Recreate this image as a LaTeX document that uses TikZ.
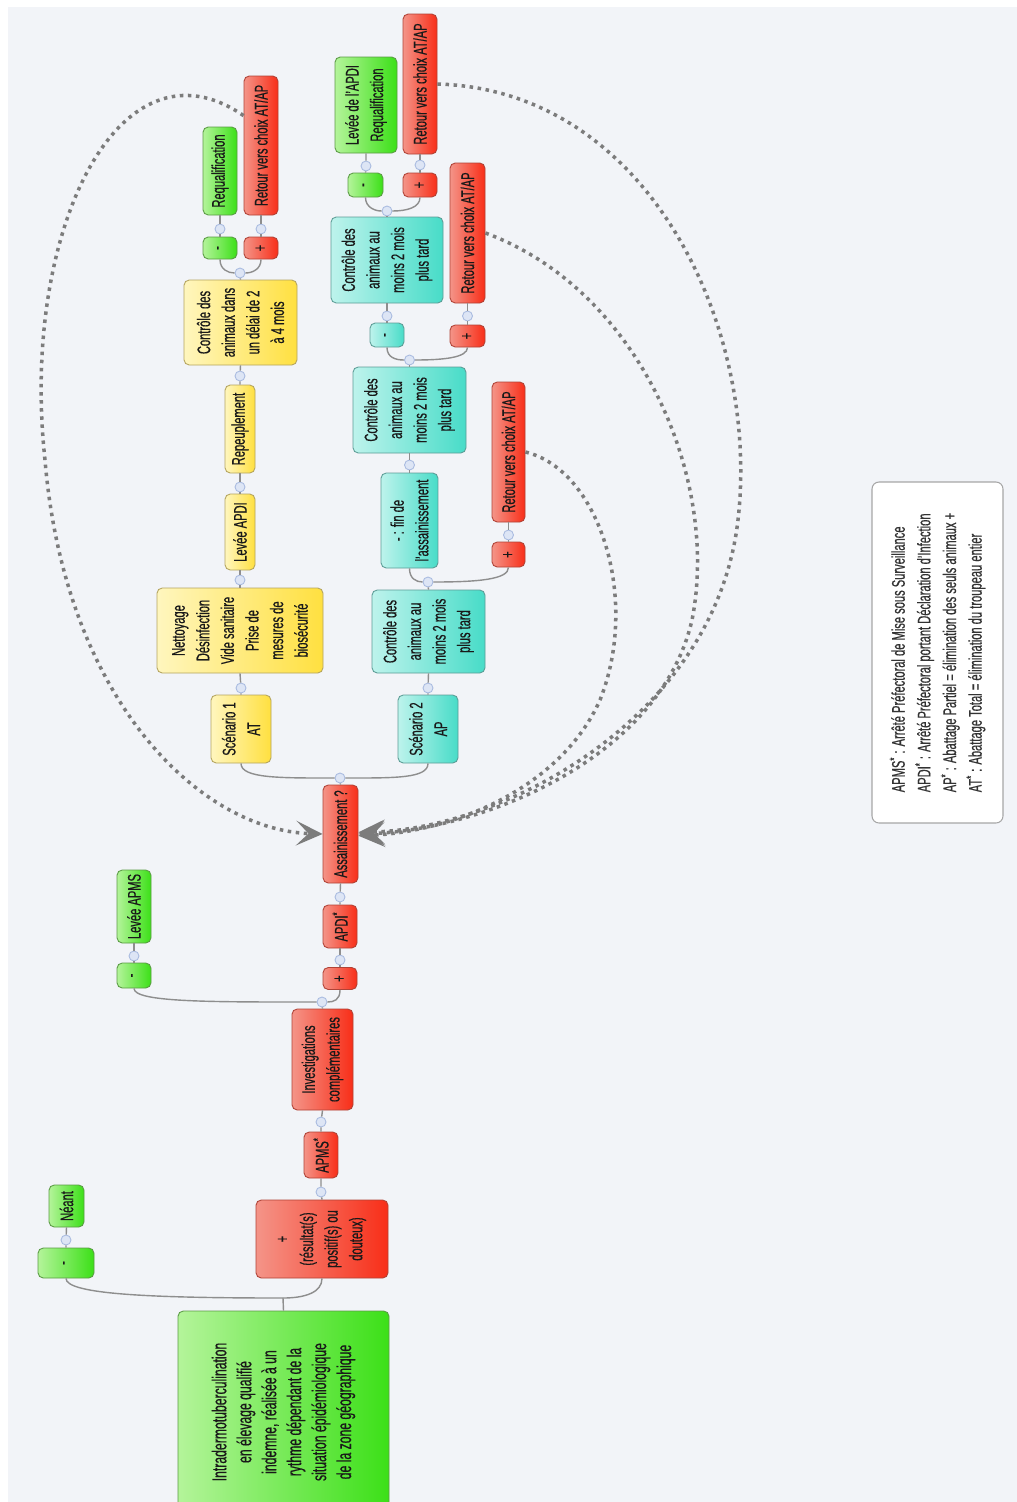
\documentclass[tikz,border=0pt]{standalone}
\usepackage{fontspec}
\setmainfont{Liberation Sans}[FakeStretch=0.61, FakeBold=0.5]
\usepackage{tikz}
\usetikzlibrary{arrows.meta, calc}
\usepackage{xcolor}
\definecolor{bgc}{HTML}{F2F4F8}
\definecolor{glight}{HTML}{B4F49A}
\definecolor{gdark}{HTML}{3CE018}
\definecolor{gbord}{HTML}{5A9A44}
\definecolor{rlight}{HTML}{F49488}
\definecolor{rdark}{HTML}{F82E18}
\definecolor{rbord}{HTML}{B04236}
\definecolor{ylight}{HTML}{FFF6BE}
\definecolor{ydark}{HTML}{FFE040}
\definecolor{ybord}{HTML}{B4A45E}
\definecolor{clight}{HTML}{BDF3EC}
\definecolor{cdark}{HTML}{48DCC8}
\definecolor{cbord}{HTML}{5C9C96}
\definecolor{kfill}{HTML}{DDE5F5}
\definecolor{kbord}{HTML}{A9BBE0}
\definecolor{lgray}{HTML}{8E8E8E}
\definecolor{dgray}{HTML}{7C7C7C}
\tikzset{%
	topic/.style={
		rotate=90,
		rounded corners=3pt,
		align=center,
		inner sep=1pt,
		line width=0.5pt,
		text=black!90,
		font=\fontsize{10.4}{14}\selectfont
	},
	boxsize/.style 2 args={
		minimum height=#1*0.02cm,
		minimum width=#2*0.02cm
	},
	greenbox/.style={topic, draw=gbord, left color=glight, right color=gdark},
	redbox/.style={topic, draw=rbord, left color=rlight, right color=rdark},
	yellowbox/.style={topic, draw=ybord, left color=ylight, right color=ydark},
	cyanbox/.style={topic, draw=cbord, left color=clight, right color=cdark},
	legendbox/.style={
		rotate=90,
		draw=gray!70,
		fill=white,
		rounded corners=4pt,
		align=left,
		inner sep=4pt,
		line width=0.6pt,
		text=black!80,
		font=\fontsize{10.4}{14.6}\selectfont
	},
	knob/.style={circle, draw=kbord, fill=kfill, minimum size=0.2cm, inner sep=0pt, line width=0.5pt},
	link/.style={draw=lgray, line width=0.8pt},
	relation/.style={
		draw=dgray,
		line width=2pt,
		dash pattern=on 2pt off 2.6pt,
		-{Stealth[length=15pt, width=14pt, inset=7pt]}
	},
}
\begin{document}
\begin{tikzpicture}[x=0.02cm, y=-0.02cm]
	\useasboundingbox (0,0) rectangle (1017,1502);
	\clip (0,0) rectangle (1017,1502);
	\fill[white] (0,0) rectangle (1017,1502);
	\fill[bgc] (8,7) rectangle (1017,1502);

	% depistage
	\node[greenbox, boxsize={211}{202}, font=\fontsize{11.4}{14.2}\selectfont] (root) at (283.5,1412) {Intradermotuberculination\\en élevage qualifié\\indemne, réalisée à un\\rythme dépendant de la\\situation épidémiologique\\de la zone géographique};
	\coordinate (j0) at (283,1298);
	\node[greenbox, boxsize={56}{30}] (nm) at (66,1263) {-};
	\node[greenbox, boxsize={35}{42}] (neant) at (66.5,1206) {Néant};
	\node[redbox, boxsize={132}{78}] (pos) at (322,1239) {+\\(résultat(s)\\positif(s) ou\\douteux)};
	\node[redbox, boxsize={34}{46}] (apms) at (321,1155) {APMS\textsuperscript{*}};
	\node[redbox, boxsize={61}{101}] (inv) at (322.5,1059.5) {Investigations\\complémentaires};
	\node[greenbox, boxsize={34}{25}] (lm) at (134,975.5) {-};
	\node[greenbox, boxsize={34}{73}] (levapms) at (134,906.5) {Levée APMS};
	\node[redbox, boxsize={34}{22}] (ap) at (340,978.5) {+};
	\node[redbox, boxsize={34}{43}] (apdi) at (340,926.5) {APDI\textsuperscript{*}};
	\node[redbox, boxsize={35}{98}] (assain) at (340.5,834) {Assainissement ?};

	% scenario 1
	\node[yellowbox, boxsize={60}{68}] (scen1) at (241,729) {Scénario 1\\AT};
	\node[yellowbox, boxsize={166}{85}] (net) at (240,630.5) {Nettoyage\\Désinfection\\Vide sanitaire\\Prise de\\mesures de\\biosécurité};
	\node[yellowbox, boxsize={30}{76}] (levapdi) at (240,532) {Levée APDI};
	\node[yellowbox, boxsize={30}{88}] (repeup) at (240,429) {Repeuplement};
	\node[yellowbox, boxsize={113}{85}] (ctrl1) at (240.5,322.5) {Contrôle des\\animaux dans\\un délai de 2\\à 4 mois};
	\node[greenbox, boxsize={34}{22}] (rqm) at (220,248) {-};
	\node[redbox, boxsize={34}{22}] (rqp) at (261,248) {+};
	\node[greenbox, boxsize={34}{88}] (requal) at (220,171) {Requalification};
	\node[redbox, boxsize={34}{139}] (ret1) at (261,145.5) {Retour vers choix AT/AP};

	% scenario 2
	\node[cyanbox, boxsize={60}{68}] (scen2) at (428,729) {Scénario 2\\AP};
	\node[cyanbox, boxsize={113}{83}] (c2a) at (428.5,631.5) {Contrôle des\\animaux au\\moins 2 mois\\plus tard};
	\node[cyanbox, boxsize={57}{95}] (fin) at (409.5,520.5) {- : fin de\\l'assainissement};
	\node[redbox, boxsize={33}{25}] (finp) at (508.5,554.5) {+};
	\node[redbox, boxsize={33}{140}] (ret2) at (508.5,452) {Retour vers choix AT/AP};
	\node[cyanbox, boxsize={113}{86}] (c2b) at (409.5,410) {Contrôle des\\animaux au\\moins 2 mois\\plus tard};
	\node[cyanbox, boxsize={34}{24}] (c2bm) at (387,335) {-};
	\node[redbox, boxsize={35}{22}] (c2bp) at (467.5,336) {+};
	\node[redbox, boxsize={35}{140}] (ret3) at (467.5,233) {Retour vers choix AT/AP};
	\node[cyanbox, boxsize={112}{86}] (c2c) at (387,260) {Contrôle des\\animaux au\\moins 2 mois\\plus tard};
	\node[greenbox, boxsize={35}{24}] (c2cm) at (365.5,185) {-};
	\node[redbox, boxsize={34}{24}] (c2cp) at (420,185) {+};
	\node[greenbox, boxsize={62}{96}] (levapdi2) at (366,105) {Levée de l'APDI\\Requalification};
	\node[redbox, boxsize={34}{140}] (ret4) at (420,84) {Retour vers choix AT/AP};

	\node[legendbox, boxsize={131}{341}] (leg) at (937.5,652.5) {APMS\textsuperscript{*} : Arrêté Préfectoral de Mise sous Surveillance\\APDI\textsuperscript{*} : Arrêté Préfectoral portant Déclaration d'Infection\\AP\textsuperscript{*} : Abattage Partiel = élimination des seuls animaux +\\AT\textsuperscript{*} : Abattage Total = élimination du troupeau entier};

	% knobs
	\node[knob] (kn) at (66,1240) {};
	\node[knob] (kpos) at (321,1192) {};
	\node[knob] (kapms) at (321,1122) {};
	\node[knob] (kinv) at (322,1002) {};
	\node[knob] (klm) at (134,956) {};
	\node[knob] (kap) at (340,960) {};
	\node[knob] (kapdi) at (340,897) {};
	\node[knob] (kas) at (340,778) {};
	\node[knob] (ks1) at (241,688) {};
	\node[knob] (knet) at (240,580) {};
	\node[knob] (klev) at (240,487) {};
	\node[knob] (krep) at (240,376) {};
	\node[knob] (kc1) at (240,273) {};
	\node[knob] (krqm) at (220,229) {};
	\node[knob] (krqp) at (261,229) {};
	\node[knob] (ks2) at (428,688) {};
	\node[knob] (kc2a) at (428,582) {};
	\node[knob] (kfin) at (409.5,465) {};
	\node[knob] (kfinp) at (508.5,535) {};
	\node[knob] (kc2b) at (409.5,360) {};
	\node[knob] (kc2bm) at (387,316) {};
	\node[knob] (kc2bp) at (467.5,316) {};
	\node[knob] (kc2c) at (387,211) {};
	\node[knob] (kc2cm) at (366,166) {};
	\node[knob] (kc2cp) at (420,165) {};

	% branches
	\draw[link] (root.east) -- (j0);
	\draw[link] (j0) .. controls +(-130,0) and +(0,16) .. (nm.west);
	\draw[link] (j0) .. controls +(22,0) and +(0,14) .. (pos.west);
	\draw[link] (nm.east) -- (kn) -- (neant.west);
	\draw[link] (pos.east) -- (kpos) -- (apms.west);
	\draw[link] (apms.east) -- (kapms) -- (inv.west);
	\draw[link] (inv.east) -- (kinv);
	\draw[link] (kinv) .. controls +(-110,0) and +(0,14) .. (lm.west);
	\draw[link] (kinv) .. controls +(12,0) and +(0,10) .. (ap.west);
	\draw[link] (lm.east) -- (klm) -- (levapms.west);
	\draw[link] (ap.east) -- (kap) -- (apdi.west);
	\draw[link] (apdi.east) -- (kapdi) -- (assain.west);
	\draw[link] (assain.east) -- (kas);
	\draw[link] (kas) .. controls +(-60,0) and +(0,15) .. (scen1.west);
	\draw[link] (kas) .. controls +(55,0) and +(0,15) .. (scen2.west);

	\draw[link] (scen1.east) -- (ks1) -- (net.west);
	\draw[link] (net.east) -- (knet) -- (levapdi.west);
	\draw[link] (levapdi.east) -- (klev) -- (repeup.west);
	\draw[link] (repeup.east) -- (krep) -- (ctrl1.west);
	\draw[link] (ctrl1.east) -- (kc1);
	\draw[link] (kc1) .. controls +(-12,0) and +(0,10) .. (rqm.west);
	\draw[link] (kc1) .. controls +(12,0) and +(0,10) .. (rqp.west);
	\draw[link] (rqm.east) -- (krqm) -- (requal.west);
	\draw[link] (rqp.east) -- (krqp) -- (ret1.west);

	\draw[link] (scen2.east) -- (ks2) -- (c2a.west);
	\draw[link] (c2a.east) -- (kc2a);
	\draw[link] (kc2a) .. controls +(-12,0) and +(0,10) .. (fin.west);
	\draw[link] (kc2a) .. controls +(50,0) and +(0,12) .. (finp.west);
	\draw[link] (fin.east) -- (kfin) -- (c2b.west);
	\draw[link] (finp.east) -- (kfinp) -- (ret2.west);
	\draw[link] (c2b.east) -- (kc2b);
	\draw[link] (kc2b) .. controls +(-14,0) and +(0,10) .. (c2bm.west);
	\draw[link] (kc2b) .. controls +(35,0) and +(0,10) .. (c2bp.west);
	\draw[link] (c2bm.east) -- (kc2bm) -- (c2c.west);
	\draw[link] (c2bp.east) -- (kc2bp) -- (ret3.west);
	\draw[link] (c2c.east) -- (kc2c);
	\draw[link] (kc2c) .. controls +(-12,0) and +(0,10) .. (c2cm.west);
	\draw[link] (kc2c) .. controls +(20,0) and +(0,10) .. (c2cp.west);
	\draw[link] (c2cm.east) -- (kc2cm) -- (levapdi2.west);
	\draw[link] (c2cp.east) -- (kc2cp) -- (ret4.west);

	% retours vers le choix
	\draw[relation] ([yshift=17pt]ret1.north) .. controls (120,30) and (20,230) .. (45,460) .. controls (65,700) and (200,830) .. (assain.north);
	\draw[relation] (ret4.south) .. controls (650,90) and (760,330) .. (738,520) .. controls (715,720) and (500,830) .. ([yshift=1pt]assain.south);
	\draw[relation] (ret3.south) .. controls (640,290) and (720,480) .. (692,620) .. controls (660,760) and (480,830) .. (assain.south);
	\draw[relation] (ret2.south) .. controls (600,470) and (640,600) .. (600,700) .. controls (560,790) and (450,832) .. ([yshift=-1pt]assain.south);
\end{tikzpicture}
\end{document}
